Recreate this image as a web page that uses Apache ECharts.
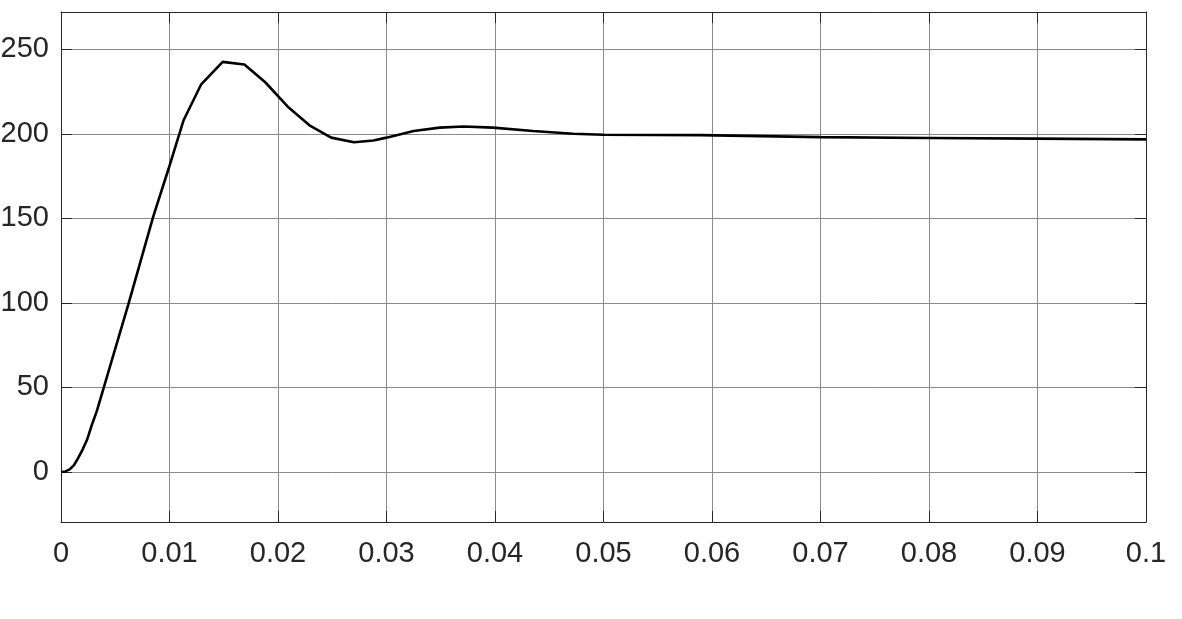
<!DOCTYPE html>
<html>
<head>
<meta charset="utf-8">
<script src="https://cdn.jsdelivr.net/npm/echarts@6/dist/echarts.min.js"></script>
<style>html,body{margin:0;padding:0;background:#fff}#c{width:1182px;height:619px}</style>
</head>
<body>
<div id="c"></div>
<script>
const timeValues = [0, 0.0004, 0.0008, 0.0012, 0.0016, 0.0020, 0.0024, 0.0028, 0.0033, 0.0039, 0.0062, 0.0085, 0.0099, 0.0113, 0.0129, 0.0149, 0.0169, 0.0188, 0.0209, 0.0229, 0.0249, 0.0270, 0.0288, 0.0300, 0.0325, 0.0349, 0.0371, 0.0398, 0.0435, 0.0472, 0.0500, 0.0589, 0.0700, 0.0800, 0.0900, 0.1000];
const signalValues = [0, 0.3, 1.5, 4, 8.5, 13.4, 19, 27, 36, 49, 99, 151, 179, 208, 229, 242.5, 241, 230.6, 216, 205, 197.7, 195, 196, 197.7, 201.6, 203.6, 204.3, 203.6, 201.6, 200, 199.4, 199.2, 198, 197.5, 197.1, 196.7];
const xTickLabels = ['0', '0.01', '0.02', '0.03', '0.04', '0.05', '0.06', '0.07', '0.08', '0.09', '0.1'];
const yTickValues = [0, 50, 100, 150, 200, 250];

const chart = echarts.init(document.getElementById('c'), null, {renderer: 'canvas'});
const frameColor = '#262626';
const gridColor = '#8a8a8a';
const font = {fontFamily: '"Liberation Sans", Arial, sans-serif', fontSize: 29, color: '#262626'};

const commonX = {type: 'value', min: 0, max: 0.1, interval: 0.01};
const commonY = {type: 'value', min: -29.6, max: 272};

chart.setOption({
  animation: false,
  backgroundColor: '#fff',
  grid: {left: 61, top: 12, right: 36, bottom: 97, containLabel: false, outerBoundsMode: 'none'},
  xAxis: [
    Object.assign({}, commonX, {
      position: 'bottom',
      axisLine: {show: true, onZero: false, lineStyle: {color: frameColor, width: 1}},
      axisTick: {show: true, inside: true, length: 11, lineStyle: {color: frameColor}},
      splitLine: {show: true, lineStyle: {color: gridColor, width: 1}},
      axisLabel: Object.assign({margin: 17, formatter: function (v) {
        const i = Math.round(v / 0.01);
        return xTickLabels[i] !== undefined ? xTickLabels[i] : '';
      }}, font)
    }),
    Object.assign({}, commonX, {
      position: 'top',
      axisLine: {show: true, onZero: false, lineStyle: {color: frameColor, width: 1}},
      axisTick: {show: true, inside: true, length: 11, lineStyle: {color: frameColor}},
      splitLine: {show: false},
      axisLabel: {show: false}
    })
  ],
  yAxis: [
    Object.assign({}, commonY, {
      position: 'left',
      axisLine: {show: true, onZero: false, lineStyle: {color: frameColor, width: 1}},
      axisTick: {show: true, inside: true, length: 11, customValues: yTickValues, lineStyle: {color: frameColor}},
      splitLine: {show: true, lineStyle: {color: gridColor, width: 1}},
      axisLabel: Object.assign({margin: 12, customValues: yTickValues}, font)
    }),
    Object.assign({}, commonY, {
      position: 'right',
      axisLine: {show: true, onZero: false, lineStyle: {color: frameColor, width: 1}},
      axisTick: {show: true, inside: true, length: 11, customValues: yTickValues, lineStyle: {color: frameColor}},
      splitLine: {show: false},
      axisLabel: {show: false, customValues: yTickValues}
    })
  ],
  series: [{
    type: 'line',
    xAxisIndex: 0,
    yAxisIndex: 0,
    data: timeValues.map((t, i) => [t, signalValues[i]]),
    showSymbol: false,
    smooth: false,
    lineStyle: {color: '#000', width: 2.6},
    z: 5
  }]
});
</script>
</body>
</html>
